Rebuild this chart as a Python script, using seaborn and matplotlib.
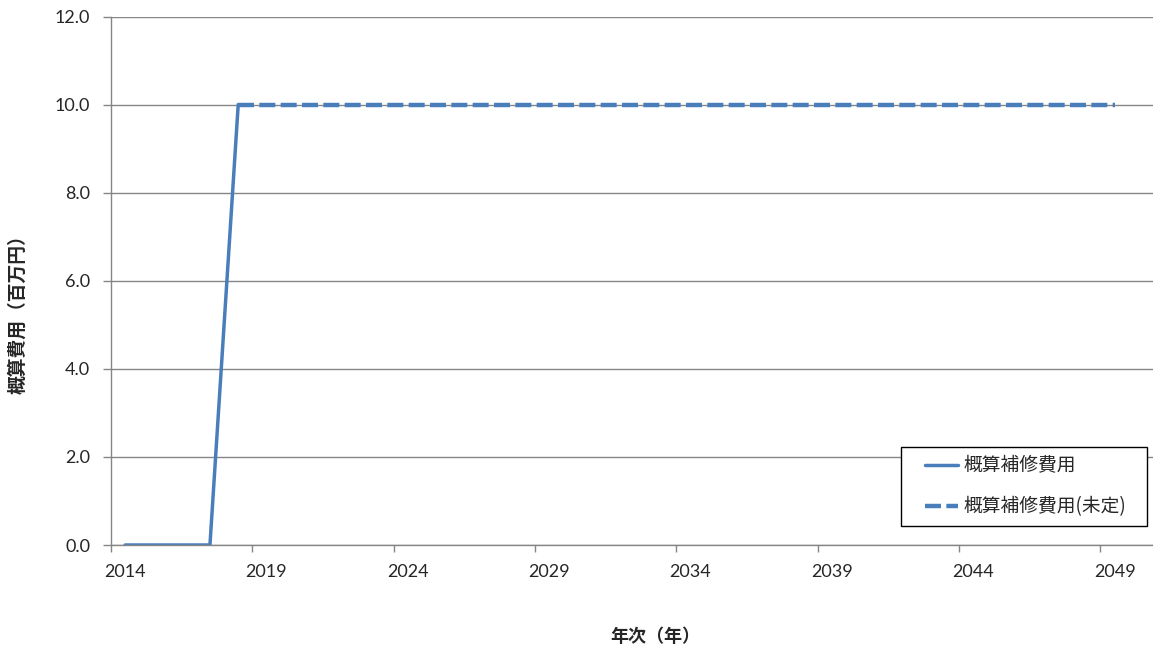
import numpy as np
import pandas as pd
import matplotlib
matplotlib.use("Agg")
import matplotlib.pyplot as plt
from matplotlib.patches import Rectangle
import seaborn as sns

years = list(range(2014, 2050))
confirmed = [0, 0, 0, 0, 10] + [np.nan] * 31
undecided = [np.nan] * 4 + [10] * 32
label_confirmed = "概算補修費用"
label_undecided = "概算補修費用(未定)"
x_title = "年次（年）"
y_title = "概算費用（百万円）"
yticks = [0, 2, 4, 6, 8, 10, 12]

sns.set_style("white")
plt.rcParams['font.family'] = ['Lato', 'Noto Sans CJK JP', 'DejaVu Sans']
CJK = ['Noto Sans CJK JP', 'DejaVu Sans']

W, H = 1153, 650
fig = plt.figure(figsize=(W / 100, H / 100), dpi=100)
ax = fig.add_axes([111 / W, (650 - 545) / H, 1 - 111 / W, (545 - 16.5) / H])

df = pd.DataFrame({"idx": np.arange(len(years)), "c": confirmed, "u": undecided})
color = "#4A7EBB"
sns.lineplot(data=df, x="idx", y="c", ax=ax, color=color, linewidth=2.5,
             label=label_confirmed)
sns.lineplot(data=df, x="idx", y="u", ax=ax, color=color, linewidth=3.2,
             label=label_undecided)
ax.lines[1].set_dashes((3.6, 1.2))

unit = 28.27
ax.set_xlim(-0.5, -0.5 + (W - 111) / unit)
ax.set_ylim(0, 12)

ax.set_xticks(list(range(0, len(years), 5)))
ax.set_xticklabels([str(years[i]) for i in range(0, len(years), 5)])
ax.set_xticks([-0.5 + 5 * k for k in range(0, 8)], minor=True)
ax.tick_params(axis="x", which="major", length=0, pad=14, labelsize=13)
ax.tick_params(axis="x", which="minor", length=5, color="#868686", width=1, direction="out")
ax.set_yticks(yticks)
ax.set_yticklabels([f"{v:.1f}" for v in yticks])
ax.tick_params(axis="y", length=6, color="#868686", width=1, direction="out", pad=9, labelsize=13)
ax.yaxis.set_tick_params(which="both", left=True)
ax.xaxis.set_tick_params(which="minor", bottom=True)

ax.grid(axis="y", color="#868686", linewidth=1)
ax.set_axisbelow(True)
for s in ["top", "right"]:
    ax.spines[s].set_visible(False)
for s in ["left", "bottom"]:
    ax.spines[s].set_color("#868686")
    ax.spines[s].set_linewidth(1)

ax.set_xlabel("")
ax.set_ylabel("")
fig.text(655 / W, 1 - 636 / H, x_title, ha="center", va="center", fontsize=13,
         fontweight="bold", family=CJK)
fig.text(18 / W, 1 - 310 / H, y_title, ha="center", va="center", rotation=90,
         fontsize=13.5, fontweight="bold", family=CJK)

box = Rectangle((901 / W, 1 - 526 / H), 246 / W, 79 / H,
                transform=fig.transFigure, facecolor="white",
                edgecolor="black", linewidth=1, zorder=4, clip_on=False)
ax.add_patch(box)
leg = ax.legend(loc="center left", bbox_to_anchor=(925 / W, 1 - 486.5 / H),
                bbox_transform=fig.transFigure, borderaxespad=0, borderpad=0,
                frameon=False, handlelength=1.76, handletextpad=0.27,
                labelspacing=1.05, prop={"family": CJK, "size": 13.5})
leg.set_zorder(6)

fig.savefig("out.png", dpi=100)
